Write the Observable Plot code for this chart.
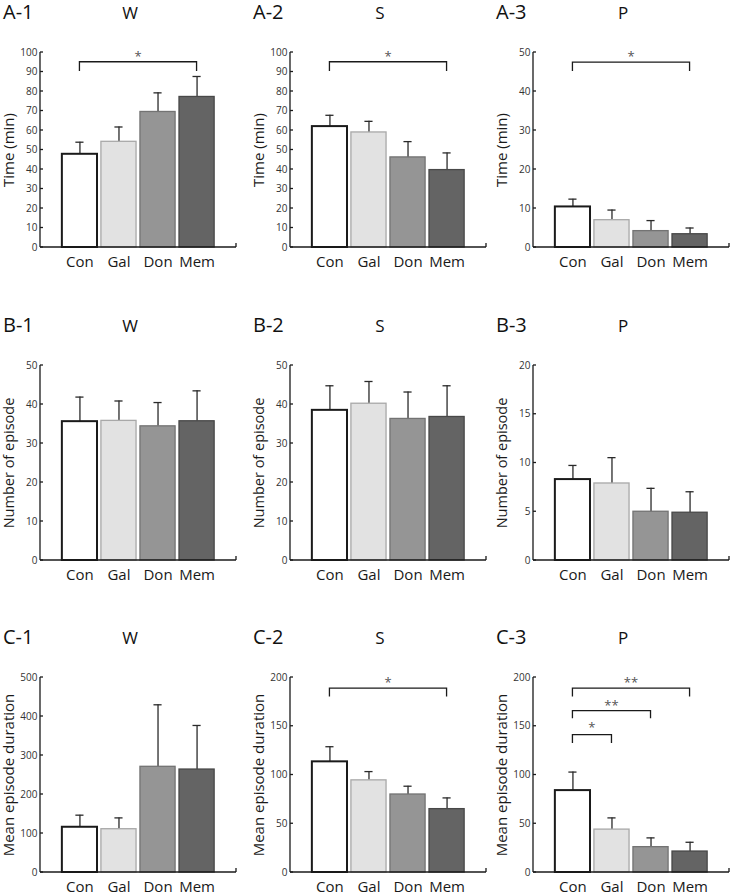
<!DOCTYPE html>
<html><head><meta charset="utf-8">
<script src="https://cdn.jsdelivr.net/npm/d3@7"></script>
<script src="https://cdn.jsdelivr.net/npm/@observablehq/plot@0.6"></script>
<style>
body{margin:0;background:#fff;}
#fig{position:relative;width:731px;height:894px;overflow:hidden;font-family:"Open Sans",sans-serif;color:#111;background:#fff;}
.panel{position:absolute;}
.plabel{position:absolute;font-size:20px;line-height:1;white-space:nowrap;}
.ptitle{position:absolute;font-size:17px;line-height:1;transform:translateX(-50%);}
</style></head><body><div id="fig"></div><script>
// ---- data ----
const groups = ["Con", "Gal", "Don", "Mem"];
const groupFills = ["#ffffff", "#e2e2e2", "#959595", "#646464"];
const groupStrokes = ["#1a1a1a", "#a8a8a8", "#737373", "#484848"];
const panelIds = ["A-1", "A-2", "A-3", "B-1", "B-2", "B-3", "C-1", "C-2", "C-3"];
const stateTitles = ["W", "S", "P"];
const yTitles = ["Time (min)", "Number of episode", "Mean episode duration"];

// means and error (upper SEM) per panel
const timeW = [47.8, 54.2, 69.5, 77.2];      const timeWErr = [6.2, 7.6, 9.8, 10.5];
const timeS = [62.0, 59.0, 46.2, 39.7];      const timeSErr = [5.8, 5.7, 8.1, 8.8];
const timeP = [10.4, 7.0, 4.2, 3.4];         const timePErr = [2.0, 2.6, 2.7, 1.6];
const numW = [35.6, 35.8, 34.4, 35.7];       const numWErr = [6.3, 5.1, 6.1, 7.8];
const numS = [38.5, 40.2, 36.3, 36.8];       const numSErr = [6.3, 5.7, 6.9, 8.0];
const numP = [8.3, 7.9, 5.0, 4.9];           const numPErr = [1.45, 2.65, 2.4, 2.15];
const durW = [116, 111, 271, 264];           const durWErr = [31, 29, 159, 113];
const durS = [113.5, 94.5, 80, 65];          const durSErr = [15.5, 9, 8.5, 11.5];
const durP = [84, 44, 26, 21.5];             const durPErr = [19, 12, 9.5, 9.5];

// y-axis tick values
const ticks100 = [0, 10, 20, 30, 40, 50, 60, 70, 80, 90, 100];
const ticks50 = [0, 10, 20, 30, 40, 50];
const ticks20 = [0, 5, 10, 15, 20];
const ticks500 = [0, 100, 200, 300, 400, 500];
const ticks200 = [0, 50, 100, 150, 200];

// significance brackets
const bracketsA1 = [{from: "Con", to: "Mem", level: 95, leg: 90.3, star: "*", starY: 99}];
const bracketsA2 = [{from: "Con", to: "Mem", level: 95, leg: 90.3, star: "*", starY: 99}];
const bracketsA3 = [{from: "Con", to: "Mem", level: 47.4, leg: 45.1, star: "*", starY: 49.5}];
const bracketsC2 = [{from: "Con", to: "Mem", level: 188.5, leg: 180, star: "*", starY: 197}];
const bracketsC3 = [
  {from: "Con", to: "Mem", level: 188.5, leg: 180, star: "**", starY: 197},
  {from: "Con", to: "Don", level: 165.5, leg: 157.8, star: "**", starY: 173.7},
  {from: "Con", to: "Gal", level: 140.8, leg: 132.3, star: "*", starY: 151}
];

// ---- panel set-up ----
const panels = [
  {means: timeW, errs: timeWErr, ticks: ticks100, brackets: bracketsA1},
  {means: timeS, errs: timeSErr, ticks: ticks100, brackets: bracketsA2},
  {means: timeP, errs: timePErr, ticks: ticks50, brackets: bracketsA3},
  {means: numW, errs: numWErr, ticks: ticks50, brackets: []},
  {means: numS, errs: numSErr, ticks: ticks50, brackets: []},
  {means: numP, errs: numPErr, ticks: ticks20, brackets: []},
  {means: durW, errs: durWErr, ticks: ticks500, brackets: []},
  {means: durS, errs: durSErr, ticks: ticks200, brackets: bracketsC2},
  {means: durP, errs: durPErr, ticks: ticks200, brackets: bracketsC3}
];

const colLeft = [0, 250, 493];
const rowFrameTop = [52, 365, 677];
const M = {top: 10, right: 2, bottom: 24, left: 40};
const frameW = 196, frameH = 195;

function axisFrame(ticks) {
  return (index, scales, values, dim) => {
    const {width, height, marginTop, marginRight, marginBottom, marginLeft} = dim;
    const y = scales.y;
    const g = d3.create("svg:g").attr("stroke", "#1a1a1a").attr("stroke-width", 1.3).attr("fill", "none");
    const x0 = marginLeft, x1 = width - marginRight, yb = height - marginBottom;
    g.append("line").attr("x1", x0).attr("x2", x0).attr("y1", y(ticks[ticks.length - 1])).attr("y2", yb);
    g.append("line").attr("x1", x0).attr("x2", x1).attr("y1", yb).attr("y2", yb);
    g.append("line").attr("x1", x1).attr("x2", x1).attr("y1", yb - 4).attr("y2", yb);
    for (const t of ticks) {
      g.append("line").attr("x1", x0).attr("x2", x0 + 3).attr("y1", y(t)).attr("y2", y(t));
    }
    return g.node();
  };
}

function bracketMark(brs) {
  return (index, scales, values, dim) => {
    const {x, y} = scales;
    const bw = x.bandwidth ? x.bandwidth() : 0;
    const g = d3.create("svg:g");
    for (const b of brs) {
      const xa = x(b.from) + bw / 2, xb = x(b.to) + bw / 2;
      g.append("path")
        .attr("d", `M${xa},${y(b.leg)}V${y(b.level)}H${xb}V${y(b.leg)}`)
        .attr("fill", "none").attr("stroke", "#1a1a1a").attr("stroke-width", 1.3);
      g.append("text")
        .attr("x", (xa + xb) / 2).attr("y", y(b.starY) + 7)
        .attr("text-anchor", "middle").attr("font-size", 13).attr("fill", "#555")
        .text(b.star);
    }
    return g.node();
  };
}

const fig = document.getElementById("fig");
panels.forEach((p, k) => {
  const r = Math.floor(k / 3), c = k % 3;
  const data = groups.map((g, i) => ({
    group: g, mean: p.means[i], hi: p.means[i] + p.errs[i],
    fill: groupFills[i], stroke: groupStrokes[i], sw: i === 0 ? 2 : 1.3
  }));
  const chart = Plot.plot({
    width: M.left + frameW + M.right,
    height: M.top + frameH + M.bottom,
    marginTop: M.top, marginRight: M.right, marginBottom: M.bottom, marginLeft: M.left,
    style: {fontFamily: "'Open Sans', sans-serif", background: "transparent", overflow: "visible"},
    x: {domain: groups, paddingInner: 0.1, paddingOuter: 0.56, round: false},
    y: {domain: [0, p.ticks[p.ticks.length - 1]]},
    color: {type: "identity"},
    marks: [
      Plot.ruleX(data, {x: "group", y1: "mean", y2: "hi", stroke: "#2a2a2a", strokeWidth: 1.3}),
      Plot.tickY(data, {x: "group", y: "hi", stroke: "#2a2a2a", strokeWidth: 1.3, insetLeft: 13.5, insetRight: 13.5}),
      Plot.barY(data, {x: "group", y: "mean", fill: "fill", stroke: "stroke", strokeWidth: "sw"}),
      Plot.axisY({ticks: p.ticks, tickSize: 0, tickPadding: 3, fontSize: 10, fill: "#333", label: null}),
      Plot.axisX({tickSize: 0, tickPadding: 9, fontSize: 15, fill: "#1a1a1a", label: null}),
      Plot.text([yTitles[r]], {text: d => d, frameAnchor: "left", textAnchor: "middle", lineAnchor: "middle", rotate: -90, dx: -31, fontSize: r === 1 ? 14.5 : 15, fill: "#1a1a1a"}),
      axisFrame(p.ticks),
      bracketMark(p.brackets)
    ]
  });
  const wrap = document.createElement("div");
  wrap.className = "panel";
  wrap.style.left = colLeft[c] + "px";
  wrap.style.top = (rowFrameTop[r] - M.top) + "px";
  wrap.appendChild(chart);
  fig.appendChild(wrap);

  const lab = document.createElement("div");
  lab.className = "plabel";
  lab.textContent = panelIds[k];
  lab.style.left = (colLeft[c] + 3) + "px";
  lab.style.top = (rowFrameTop[r] - 40 - 10) + "px";
  fig.appendChild(lab);

  const tt = document.createElement("div");
  tt.className = "ptitle";
  tt.textContent = stateTitles[c];
  tt.style.left = (colLeft[c] + 130) + "px";
  tt.style.top = (rowFrameTop[r] - 40 - 8.5) + "px";
  fig.appendChild(tt);
});
</script></body></html>
